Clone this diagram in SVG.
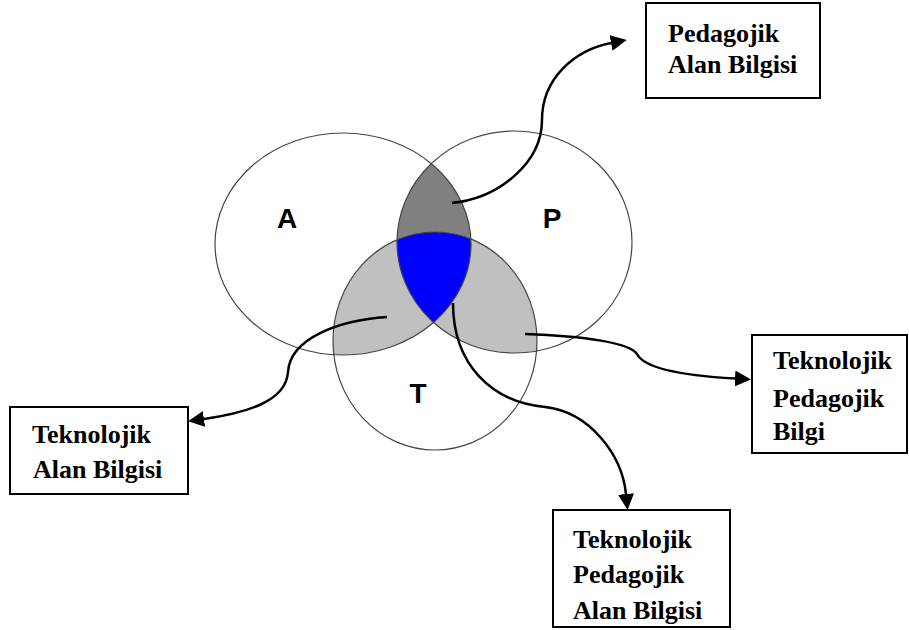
<svg xmlns="http://www.w3.org/2000/svg" width="909" height="630" viewBox="0 0 909 630">
  <style>
    .box { fill: #ffffff; stroke: #000000; stroke-width: 2; }
    .lbl { font-family: "Liberation Serif", "Times New Roman", serif; font-weight: bold; font-size: 26px; fill: #000000; }
    .set { font-family: "Liberation Sans", Arial, sans-serif; font-weight: bold; font-size: 28px; fill: #000000; text-anchor: middle; }
    .outline { fill: none; stroke: #444444; stroke-width: 1.2; }
    .conn { fill: none; stroke: #000000; stroke-width: 2.5; marker-end: url(#arrow); }
  </style>
  <defs>
    <marker id="arrow" markerUnits="userSpaceOnUse" markerWidth="17" markerHeight="17" refX="0" refY="8" orient="auto">
      <path d="M0,0 L16,8 L0,16 Z" fill="#000000"/>
    </marker>
    <clipPath id="clipA"><ellipse cx="343" cy="244" rx="128" ry="111"/></clipPath>
    <clipPath id="clipP"><ellipse cx="514.5" cy="242" rx="117.5" ry="111"/></clipPath>
  </defs>

  <rect width="909" height="630" fill="#ffffff"/>

  <g id="venn">
    <ellipse cx="514.5" cy="242" rx="117.5" ry="111" fill="#808080" clip-path="url(#clipA)"/>
    <ellipse cx="435" cy="341" rx="102" ry="109" fill="#c0c0c0" clip-path="url(#clipA)"/>
    <ellipse cx="435" cy="341" rx="102" ry="109" fill="#c0c0c0" clip-path="url(#clipP)"/>
    <g clip-path="url(#clipA)">
      <ellipse cx="435" cy="341" rx="102" ry="109" fill="#0000ff" clip-path="url(#clipP)"/>
    </g>
    <g id="setA">
      <ellipse class="outline" cx="343" cy="244" rx="128" ry="111"/>
      <text class="set" x="287" y="228">A</text>
    </g>
    <g id="setP">
      <ellipse class="outline" cx="514.5" cy="242" rx="117.5" ry="111"/>
      <text class="set" x="552" y="228">P</text>
    </g>
    <g id="setT">
      <ellipse class="outline" cx="435" cy="341" rx="102" ry="109"/>
      <text class="set" x="418" y="403">T</text>
    </g>
  </g>

  <g id="connectors">
    <path class="conn" d="M452,203 C500,198 542,162 542,120 C542,78 575,50 611,43"/>
    <path class="conn" d="M387,317 C340,320 290,338 288,372 C286,402 245,413 204,419"/>
    <path class="conn" d="M525,334 C585,336 630,343 637,354 C645,370 690,376 735,378.5"/>
    <path class="conn" d="M453,303 C453,365 492,402 545,407 C590,412 622,455 626,494"/>
  </g>

  <g id="node-pab">
    <rect class="box" x="646" y="3" width="174" height="95"/>
    <text class="lbl" x="668" y="42">Pedagojik</text>
    <text class="lbl" x="668" y="73">Alan Bilgisi</text>
  </g>

  <g id="node-tab">
    <rect class="box" x="10" y="407" width="178" height="87"/>
    <text class="lbl" x="32" y="443">Teknolojik</text>
    <text class="lbl" x="33" y="478">Alan Bilgisi</text>
  </g>

  <g id="node-tpb">
    <rect class="box" x="752" y="335" width="155" height="118"/>
    <text class="lbl" x="773" y="369">Teknolojik</text>
    <text class="lbl" x="773" y="407">Pedagojik</text>
    <text class="lbl" x="773" y="440">Bilgi</text>
  </g>

  <g id="node-tpab">
    <rect class="box" x="553" y="510" width="177" height="117"/>
    <text class="lbl" x="573" y="548">Teknolojik</text>
    <text class="lbl" x="573" y="583">Pedagojik</text>
    <text class="lbl" x="573" y="619">Alan Bilgisi</text>
  </g>
</svg>
